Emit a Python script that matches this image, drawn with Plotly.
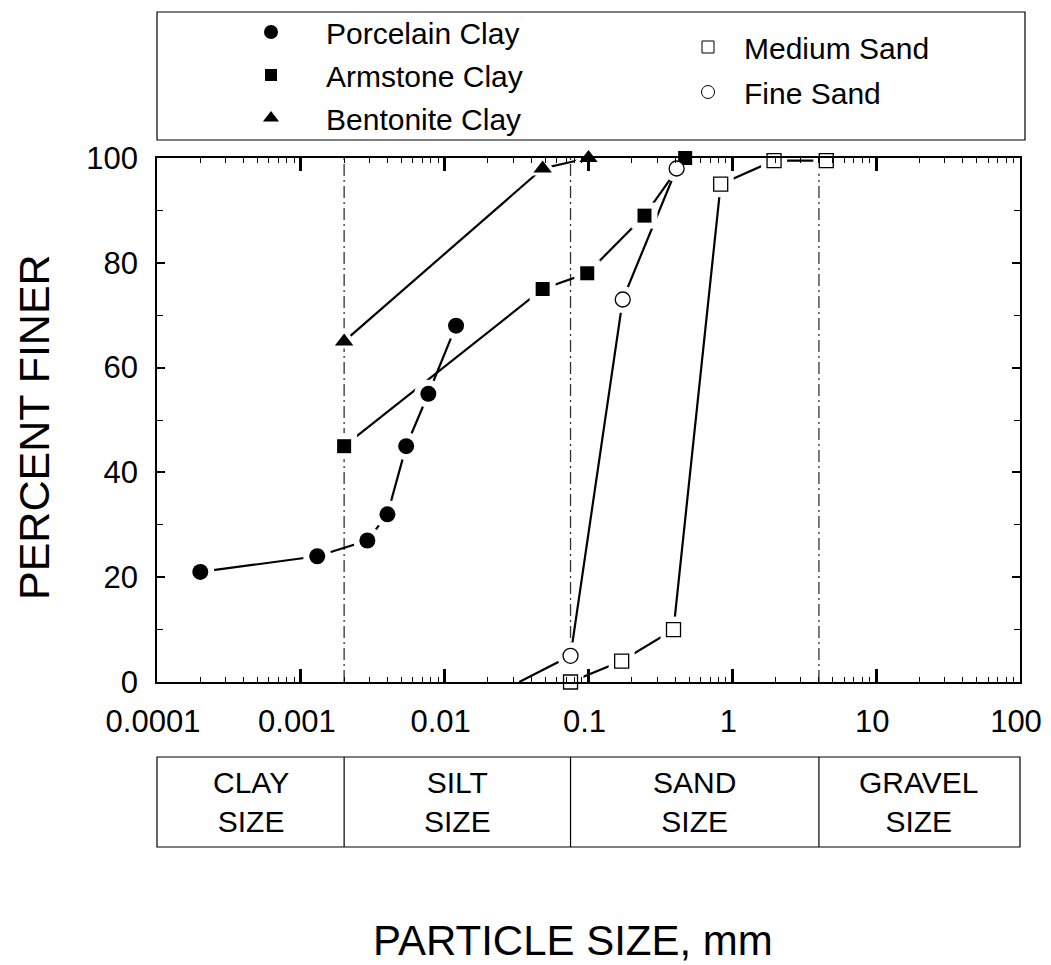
import math
import plotly.graph_objects as go

# ---------------- data ----------------
porcelain_x = [0.0002, 0.0013, 0.0029, 0.004, 0.0054, 0.0077, 0.012]
porcelain_y = [21, 24, 27, 32, 45, 55, 68]

armstone_x = [0.002, 0.048, 0.098, 0.245, 0.47]
armstone_y = [45, 75, 78, 89, 100]

bentonite_x = [0.002, 0.048, 0.1]
bentonite_y = [65, 98, 100]

medium_sand_x = [0.075, 0.17, 0.39, 0.83, 1.95, 4.5]
medium_sand_y = [0, 4, 10, 95, 99.5, 99.5]

fine_sand_x = [0.033, 0.075, 0.173, 0.41]   # first point has no marker drawn
fine_sand_y = [0, 5, 73, 98]

x_tick_vals = [0.0001, 0.001, 0.01, 0.1, 1, 10, 100]
x_tick_text = ["0.0001", "0.001", "0.01", "0.1", "1", "10", "100"]

size_boundaries = [0.002, 0.075, 4.0]
size_classes = ["CLAY<br>SIZE", "SILT<br>SIZE", "SAND<br>SIZE", "GRAVEL<br>SIZE"]

# ---------------- layout constants ----------------
OFF = 0                      # body margin removed by post_script
W, H = 1051, 965
L, T = 157 - OFF, 158 - OFF
R = W - (1020 - OFF)
B = H - (682 - OFF)
PW = W - L - R
PH = H - T - B
XMIN, XMAX = -4, 2
FONT = "Liberation Sans, Arial, Helvetica, sans-serif"


def py(page_y):
    return (H - B - (page_y - OFF)) / PH


def px(page_x):
    return (page_x - OFF - L) / PW


def xpaper(v):
    return (math.log10(v) - XMIN) / (XMAX - XMIN)


series = [
    # name, xs, ys, symbol, size, filled, legend, marker-start index
    ("Porcelain Clay", porcelain_x, porcelain_y, "circle", 16, True, "legend", 0),
    ("Armstone Clay", armstone_x, armstone_y, "square", 14, True, "legend", 0),
    ("Bentonite Clay", bentonite_x, bentonite_y, "triangle-up", 16, True, "legend", 0),
    ("Medium Sand", medium_sand_x, medium_sand_y, "square", 14, False, "legend2", 0),
    ("Fine Sand", fine_sand_x, fine_sand_y, "circle", 15, False, "legend2", 1),
]

fig = go.Figure()

# lines
for name, xs, ys, sym, size, filled, lg, s0 in series:
    fig.add_trace(go.Scatter(x=xs, y=ys, mode="lines",
                             line=dict(color="black", width=2.2),
                             showlegend=False, hoverinfo="skip"))
# white halos to create gaps between lines and markers
for name, xs, ys, sym, size, filled, lg, s0 in series:
    fig.add_trace(go.Scatter(x=xs[s0:], y=ys[s0:], mode="markers",
                             marker=dict(symbol=sym, size=size + 12, color="white",
                                         line=dict(width=0)),
                             showlegend=False, hoverinfo="skip"))
# markers
for name, xs, ys, sym, size, filled, lg, s0 in series:
    fig.add_trace(go.Scatter(
        x=xs[s0:], y=ys[s0:], mode="markers", name=name, cliponaxis=False,
        marker=dict(symbol=sym, size=size,
                    color="black" if filled else "white",
                    line=dict(width=0 if filled else 1.3, color="black")),
        showlegend=False))
# legend entries (markers only)
for name, xs, ys, sym, size, filled, lg, s0 in series:
    fig.add_trace(go.Scatter(
        x=[None], y=[None], mode="markers", name=name, legend=lg, legendgroup=name,
        marker=dict(symbol=sym, size=size - 2,
                    color="black" if filled else "white",
                    line=dict(width=0 if filled else 1, color="black"))))

shapes = []
# vertical boundary lines inside plot
for b in size_boundaries:
    shapes.append(dict(type="line", xref="x", yref="y", x0=b, x1=b, y0=0, y1=100,
                       line=dict(color="#333", width=1.3, dash="12px,4px,2px,4px"),
                       layer="below"))
# legend box
shapes.append(dict(type="rect", xref="paper", yref="paper",
                   x0=px(157), x1=px(1025), y0=py(140), y1=py(12),
                   line=dict(color="black", width=1.2)))
# classification box
box_top, box_bot = py(757), py(847)
shapes.append(dict(type="rect", xref="paper", yref="paper", x0=0, x1=1,
                   y0=box_bot, y1=box_top, line=dict(color="black", width=1.2)))
for b in size_boundaries:
    shapes.append(dict(type="line", xref="paper", yref="paper",
                       x0=xpaper(b), x1=xpaper(b), y0=box_bot, y1=box_top,
                       line=dict(color="black", width=1.2)))

annotations = []
edges = [10 ** XMIN] + size_boundaries + [10 ** XMAX]
for i, lab in enumerate(size_classes):
    c = (xpaper(edges[i]) + xpaper(edges[i + 1])) / 2
    annotations.append(dict(x=c, y=(box_top + box_bot) / 2, xref="paper", yref="paper",
                            xanchor="center", yanchor="middle",
                            text=lab, showarrow=False,
                            font=dict(size=30, family=FONT, color="black")))
annotations.append(dict(x=px(573), y=py(940), xref="paper", yref="paper",
                        xanchor="center", yanchor="middle",
                        text="PARTICLE SIZE, mm", showarrow=False,
                        font=dict(size=42, family=FONT, color="black")))
annotations.append(dict(x=px(34), y=py(427), xref="paper", yref="paper",
                        xanchor="center", yanchor="middle",
                        text="PERCENT FINER", showarrow=False, textangle=-90,
                        font=dict(size=43, family=FONT, color="black")))

fig.update_layout(
    width=W, height=H,
    margin=dict(l=L, r=R, t=T, b=B, autoexpand=False),
    paper_bgcolor="white", plot_bgcolor="white",
    shapes=shapes, annotations=annotations,
    xaxis=dict(type="log", range=[XMIN, XMAX], tickmode="array",
               tickvals=x_tick_vals, ticktext=x_tick_text,
               ticks="inside", ticklen=13, tickwidth=3, tickcolor="black",
               showline=True, linecolor="black", linewidth=1.5, mirror="allticks",
               showgrid=False, zeroline=False, ticklabelstandoff=11,
               ticklabelshift=-4, ticklabeloverflow="allow",
               tickfont=dict(size=31, family=FONT, color="black"),
               minor=dict(ticks="inside", ticklen=5, tickwidth=1, tickcolor="black",
                          dtick="D1", showgrid=False)),
    yaxis=dict(range=[0, 100], tickmode="linear", tick0=0, dtick=20,
               ticks="inside", ticklen=8, tickwidth=1.5, tickcolor="black",
               showline=True, linecolor="black", linewidth=1.5, mirror="allticks",
               showgrid=False, zeroline=False, ticklabelstandoff=11,
               ticklabeloverflow="allow",
               tickfont=dict(size=31, family=FONT, color="black"),
               minor=dict(ticks="inside", ticklen=6, tickwidth=1, tickcolor="black",
                          dtick=10, showgrid=False)),
    legend=dict(x=px(216), y=py(6), xanchor="left", yanchor="top",
                font=dict(size=30, family=FONT, color="black"),
                bgcolor="rgba(0,0,0,0)", borderwidth=0, tracegroupgap=1,
                itemwidth=100),
    legend2=dict(x=px(672), y=py(21), xanchor="left", yanchor="top",
                 font=dict(size=30, family=FONT, color="black"),
                 bgcolor="rgba(0,0,0,0)", borderwidth=0, tracegroupgap=3,
                 itemwidth=62),
)

fig.write_html("out.html", config={"displayModeBar": False},
               post_script="document.body.style.margin='0';document.body.style.overflow='hidden';")
